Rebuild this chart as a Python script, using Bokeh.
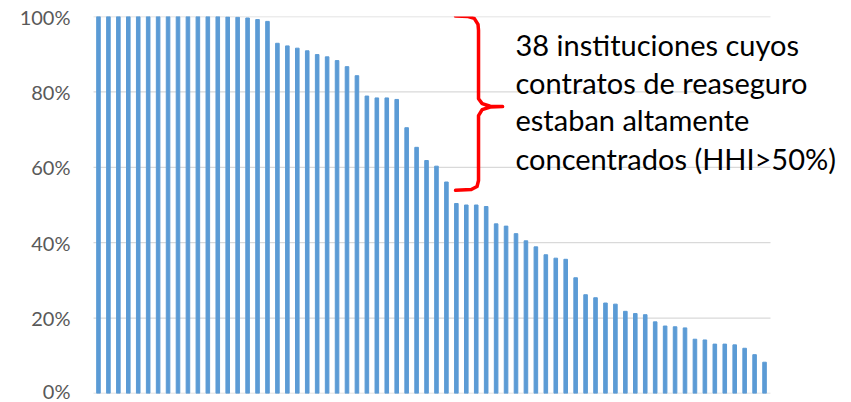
from bokeh.plotting import figure
from bokeh.models import ColumnDataSource, FixedTicker, NumeralTickFormatter, Label
from bokeh.embed import file_html
from bokeh.resources import INLINE

# HHI of reinsurance contracts per institution (share, 0-1), sorted descending
hhi = [1.000, 1.000, 1.000, 1.000, 1.000, 1.000, 1.000, 1.000, 1.000, 1.000,
       1.000, 1.000, 1.000, 0.999, 0.998, 0.996, 0.992, 0.987, 0.929, 0.922,
       0.916, 0.909, 0.899, 0.893, 0.883, 0.867, 0.843, 0.789, 0.784, 0.784,
       0.780, 0.705, 0.653, 0.618, 0.603, 0.561, 0.504, 0.500, 0.500, 0.496,
       0.450, 0.444, 0.424, 0.405, 0.389, 0.368, 0.359, 0.356, 0.307, 0.262,
       0.254, 0.240, 0.237, 0.218, 0.212, 0.209, 0.190, 0.179, 0.177, 0.174,
       0.144, 0.142, 0.131, 0.131, 0.129, 0.120, 0.103, 0.083]
institutions = list(range(1, len(hhi) + 1))
y_ticks = [0, 0.2, 0.4, 0.6, 0.8, 1.0]
annotation_lines = ["38 instituciones cuyos",
                    "contratos de reaseguro",
                    "estaban altamente",
                    "concentrados (HHI>50%)"]

N = len(hhi)
W, H = 851, 402
left, right, top, bottom = 93, 6, 16, 9
bar_px = 676 / N                      # pixel width of one category slot
x_end = 0.5 + (W - left - right) / bar_px   # extra room on the right for the note

src = ColumnDataSource(dict(x=institutions, top=hhi))

p = figure(width=W, height=H, output_backend="svg", toolbar_location=None,
           x_range=(0.5, x_end), y_range=(0, 1),
           min_border_left=left, min_border_right=right, min_border_top=top,
           min_border_bottom=bottom)
p.outline_line_color = None
p.background_fill_color = "white"
p.border_fill_color = "white"

# horizontal gridlines limited to the category area
p.segment(x0=[0.4] * len(y_ticks), x1=[N + 0.6] * len(y_ticks), y0=y_ticks, y1=y_ticks,
          line_color="#D9D9D9", line_width=1.3)

p.vbar(x="x", top="top", width=0.36, source=src, color="#5B9BD5")

p.xaxis.visible = False
p.xgrid.visible = False
p.ygrid.visible = False

ya = p.yaxis[0]
ya.ticker = FixedTicker(ticks=y_ticks)
ya.formatter = NumeralTickFormatter(format="0%")
ya.axis_line_color = None
ya.major_tick_line_color = None
ya.minor_tick_line_color = None
ya.major_tick_out = 0
ya.major_tick_in = 0
ya.major_label_standoff = 23
ya.major_label_text_font = "Lato"
ya.major_label_text_font_size = "20px"
ya.major_label_text_color = "#595959"

# curly bracket (in data units)
bx = [36.92, 38.2, 38.8, 39.18, 39.23, 39.23, 39.6, 40.4, 41.65,
      40.4, 39.6, 39.23, 39.23, 39.08, 38.5, 36.92]
by = [1.001, 1.0, 0.995, 0.979, 0.963, 0.782, 0.769, 0.762, 0.761,
      0.760, 0.753, 0.737, 0.565, 0.549, 0.541, 0.539]
p.line(bx, by, line_color="#FF0000", line_width=3.5, line_join="round", line_cap="round")

baselines = [0.927, 0.826, 0.726, 0.624]
for line_text, yb in zip(annotation_lines, baselines):
    p.add_layout(Label(x=42.95, y=yb, text=line_text, text_font="Lato",
                       text_font_size="29px", text_color="black",
                       text_baseline="alphabetic", text_align="left"))

open("out.html", "w").write(file_html(p, INLINE))
